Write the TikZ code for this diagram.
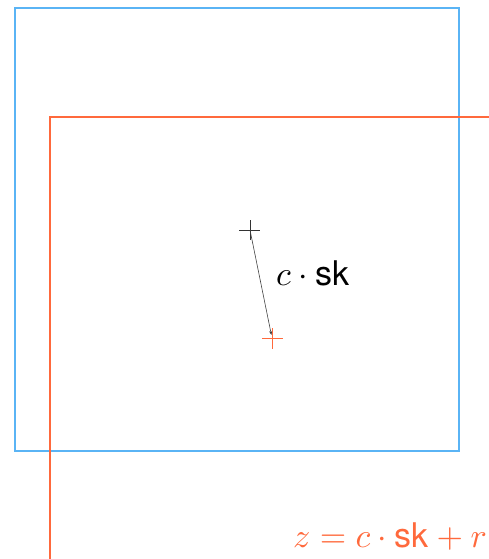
\documentclass[tikz,border=0pt]{standalone}
\usepackage{fontspec}
\setsansfont{TeX Gyre Heros}
\usetikzlibrary{arrows.meta,calc}
\definecolor{boxblue}{RGB}{90,180,245}
\definecolor{orng}{RGB}{255,105,60}
\begin{document}
\begin{tikzpicture}[x=1pt,y=-1pt,
  bluebox/.style={color=boxblue,line width=1.3pt},
  orngline/.style={color=orng,line width=1.3pt},
  crossmark/.style={line width=0.7pt},
  lbl/.style={inner sep=0pt}]
\useasboundingbox (0,0) rectangle (489,559);
\draw[bluebox] (15,8) rectangle (459,451);
\draw[orngline] (50,559) -- (50,117) -- (489,117);
\coordinate (p) at (250,230);
\coordinate (q) at (272,338);
\draw[crossmark,black!80] (239,230) -- (260,230) (250,220) -- (250,240);
\draw[crossmark,orng] (262,338) -- (283,338) (272,328) -- (272,349);
\draw[black!75,line width=0.6pt,-{Stealth[length=4pt,width=3pt]}] (p) -- ($(q)+(-0.6,-3)$);
\node[lbl,anchor=base west] (lab) at (276,285) {\scalebox{3.4}{$c\cdot\textsf{sk}$}};
\node[lbl,anchor=base east,text=orng] (z) at (487,547) {\scalebox{3.4}{$z=c\cdot\textsf{sk}+r$}};
\end{tikzpicture}
\end{document}
